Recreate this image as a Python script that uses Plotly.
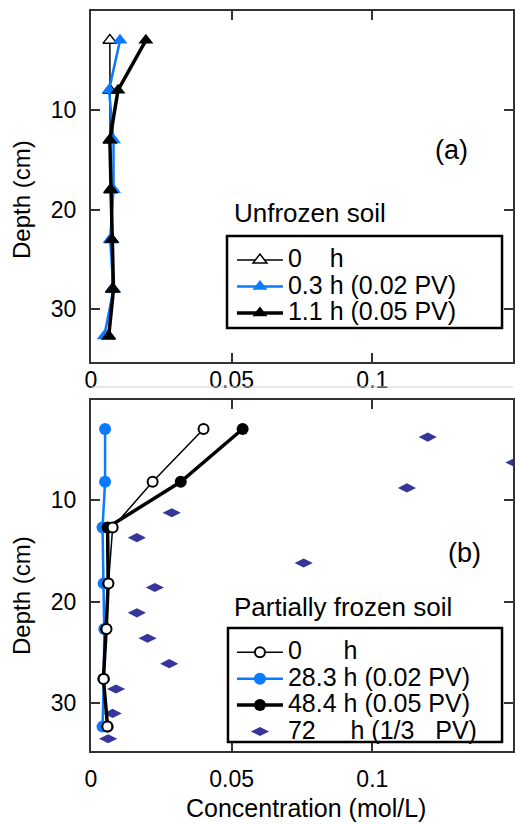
import plotly.graph_objects as go

# ---------------- data ----------------
# (a) Unfrozen soil
top_depth = [3, 8, 13, 18, 23, 28, 32.7]
top_0h = [0.0067, 0.0067, 0.0068, 0.0070, 0.0072, 0.0076, 0.0062]
top_03h = [0.0103, 0.0064, 0.0080, 0.0080, 0.0068, 0.0080, 0.0047]
top_11h = [0.0195, 0.0096, 0.0067, 0.0071, 0.0074, 0.0080, 0.0063]

# (b) Partially frozen soil
bot_depth = [3, 8.2, 12.7, 18.2, 22.7, 27.6, 32.3]
bot_0h = [0.0400, 0.0219, 0.0077, 0.0062, 0.0055, 0.0045, 0.0058]
bot_283h = [0.0050, 0.0050, 0.0041, 0.0045, 0.0047, 0.0046, 0.0041]
bot_484h = [0.0539, 0.0319, 0.0059, 0.0061, 0.0054, 0.0044, 0.0059]
diam_depth = [3.8, 6.3, 8.8, 11.25, 13.7, 16.2, 18.6, 21.1, 23.6, 26.1, 28.6, 31.0, 33.5]
diam_conc = [0.1197, 0.1505, 0.1123, 0.0287, 0.0163, 0.0756, 0.0227, 0.0163,
             0.0201, 0.0278, 0.0089, 0.0077, 0.0061]

x_tickvals = [0, 0.05, 0.1]
x_ticktext = ["0", "0.05", "0.1"]
y_tickvals = [10, 20, 30]
y_ticktext = ["10", "20", "30"]

top_names = ["0\u00a0\u00a0\u00a0\u00a0h", "0.3 h (0.02 PV)", "1.1 h (0.05 PV)"]
bot_names = ["0\u00a0\u00a0\u00a0\u00a0\u00a0\u00a0h", "28.3 h (0.02 PV)", "48.4 h (0.05 PV)",
             "72\u00a0\u00a0\u00a0\u00a0\u00a0h (1/3\u00a0\u00a0\u00a0PV)"]

BLUE = "#0A7BFF"
NAVY = "#35359A"
FONT = "Liberation Sans, Arial, Helvetica, sans-serif"


def nm(s):
    return '<span style="font-size:25px">' + s + '</span>'


fig = go.Figure()

# ---- top panel ----
fig.add_trace(go.Scatter(x=top_0h, y=top_depth, mode="lines+markers", name=nm(top_names[0]),
                         line=dict(color="black", width=1.5),
                         marker=dict(symbol="triangle-up", size=12, color="white",
                                     line=dict(color="black", width=1.5)),
                         xaxis="x", yaxis="y", legend="legend", legendrank=1))
fig.add_trace(go.Scatter(x=top_03h, y=top_depth, mode="lines+markers", name=nm(top_names[1]),
                         line=dict(color=BLUE, width=2.5),
                         marker=dict(symbol="triangle-up", size=13, color=BLUE),
                         xaxis="x", yaxis="y", legend="legend", legendrank=2))
fig.add_trace(go.Scatter(x=top_11h, y=top_depth, mode="lines+markers", name=nm(top_names[2]),
                         line=dict(color="black", width=3.5),
                         marker=dict(symbol="triangle-up", size=13, color="black"),
                         xaxis="x", yaxis="y", legend="legend", legendrank=3))

# ---- bottom panel ----
fig.add_trace(go.Scatter(x=diam_conc, y=diam_depth, mode="markers", name=nm(bot_names[3]),
                         marker=dict(symbol="diamond-wide", size=13, color=NAVY),
                         xaxis="x2", yaxis="y2", legend="legend2", legendrank=4))
fig.add_trace(go.Scatter(x=bot_283h, y=bot_depth, mode="lines+markers", name=nm(bot_names[1]),
                         line=dict(color=BLUE, width=2.5),
                         marker=dict(symbol="circle", size=12, color=BLUE),
                         xaxis="x2", yaxis="y2", legend="legend2", legendrank=2))
fig.add_trace(go.Scatter(x=bot_484h, y=bot_depth, mode="lines+markers", name=nm(bot_names[2]),
                         line=dict(color="black", width=3.5),
                         marker=dict(symbol="circle", size=12, color="black"),
                         xaxis="x2", yaxis="y2", legend="legend2", legendrank=3))
fig.add_trace(go.Scatter(x=bot_0h, y=bot_depth, mode="lines+markers", name=nm(bot_names[0]),
                         line=dict(color="black", width=1.5),
                         marker=dict(symbol="circle", size=10, color="white",
                                     line=dict(color="black", width=2)),
                         xaxis="x2", yaxis="y2", legend="legend2", legendrank=1))

axis_common = dict(showline=True, linecolor="#333", linewidth=2, mirror="ticks",
                   ticks="inside", ticklen=9, tickwidth=1.5, tickcolor="#333",
                   showgrid=False, zeroline=False, automargin=False,
                   tickfont=dict(family=FONT, size=23, color="black"))

fig.update_layout(
    width=515, height=824,
    margin=dict(l=91, r=2, t=11, b=73, autoexpand=False),
    paper_bgcolor="white", plot_bgcolor="white",
    font=dict(family=FONT, color="black"),
    xaxis=dict(domain=[0, 1], range=[0, 0.15], tickvals=x_tickvals, ticktext=x_ticktext,
               anchor="y", ticklabelstandoff=-4, **axis_common),
    yaxis=dict(domain=[0.5257, 1], range=[35.3, 0.05], tickvals=y_tickvals, ticktext=y_ticktext,
               anchor="x", ticklabelstandoff=8, **axis_common),
    xaxis2=dict(domain=[0, 1], range=[0, 0.15], tickvals=x_tickvals, ticktext=x_ticktext,
                anchor="y2", ticklabelstandoff=6, **axis_common),
    yaxis2=dict(domain=[0, 0.4743], range=[34.7, 0.15], tickvals=y_tickvals, ticktext=y_ticktext,
                anchor="x2", ticklabelstandoff=8, **axis_common),
    legend=dict(x=0.334, y=0.688, xanchor="left", yanchor="top",
                bgcolor="rgba(0,0,0,0)", borderwidth=0, itemwidth=46,
                font=dict(family=FONT, size=18, color="black"), tracegroupgap=0),
    legend2=dict(x=0.334, y=0.158, xanchor="left", yanchor="top",
                 bgcolor="rgba(0,0,0,0)", borderwidth=0, itemwidth=46,
                 font=dict(family=FONT, size=18, color="black"), tracegroupgap=0),
    showlegend=True,
)

# legend frames
fig.add_shape(type="rect", xref="paper", yref="paper", x0=0.3223, x1=0.974, y0=0.5716, y1=0.696,
              line=dict(color="black", width=2.5), fillcolor="rgba(0,0,0,0)", layer="above")
fig.add_shape(type="rect", xref="paper", yref="paper", x0=0.3246, x1=0.974, y0=0.0122, y1=0.1662,
              line=dict(color="black", width=2.5), fillcolor="rgba(0,0,0,0)", layer="above")
# faint separator line under the top panel
fig.add_shape(type="line", xref="paper", yref="paper", x0=0, x1=1, y0=0.492, y1=0.492,
              line=dict(color="#d0d0d0", width=1))

ann = [
    dict(text="Unfrozen soil", x=0.334, y=0.727, xanchor="left", yanchor="middle", size=26),
    dict(text="Partially frozen soil", x=0.334, y=0.1946, xanchor="left", yanchor="middle", size=26),
    dict(text="(a)", x=0.855, y=0.812, xanchor="center", yanchor="middle", size=27),
    dict(text="(b)", x=0.886, y=0.2676, xanchor="center", yanchor="middle", size=27),
    dict(text="Concentration (mol/L)", x=0.509, y=-0.077, xanchor="center", yanchor="middle", size=25),
]
for a in ann:
    fig.add_annotation(text=a["text"], x=a["x"], y=a["y"], xref="paper", yref="paper",
                       xanchor=a["xanchor"], yanchor=a["yanchor"], showarrow=False,
                       font=dict(family=FONT, size=a["size"], color="black"))
for yy in (0.7446, 0.2095):
    fig.add_annotation(text="Depth (cm)", x=-0.1635, y=yy, xref="paper", yref="paper",
                       xanchor="center", yanchor="middle", textangle=-90, showarrow=False,
                       font=dict(family=FONT, size=24, color="black"))

fig.write_html("out.html", config={"displayModeBar": False},
               post_script="document.body.style.margin='0';")
